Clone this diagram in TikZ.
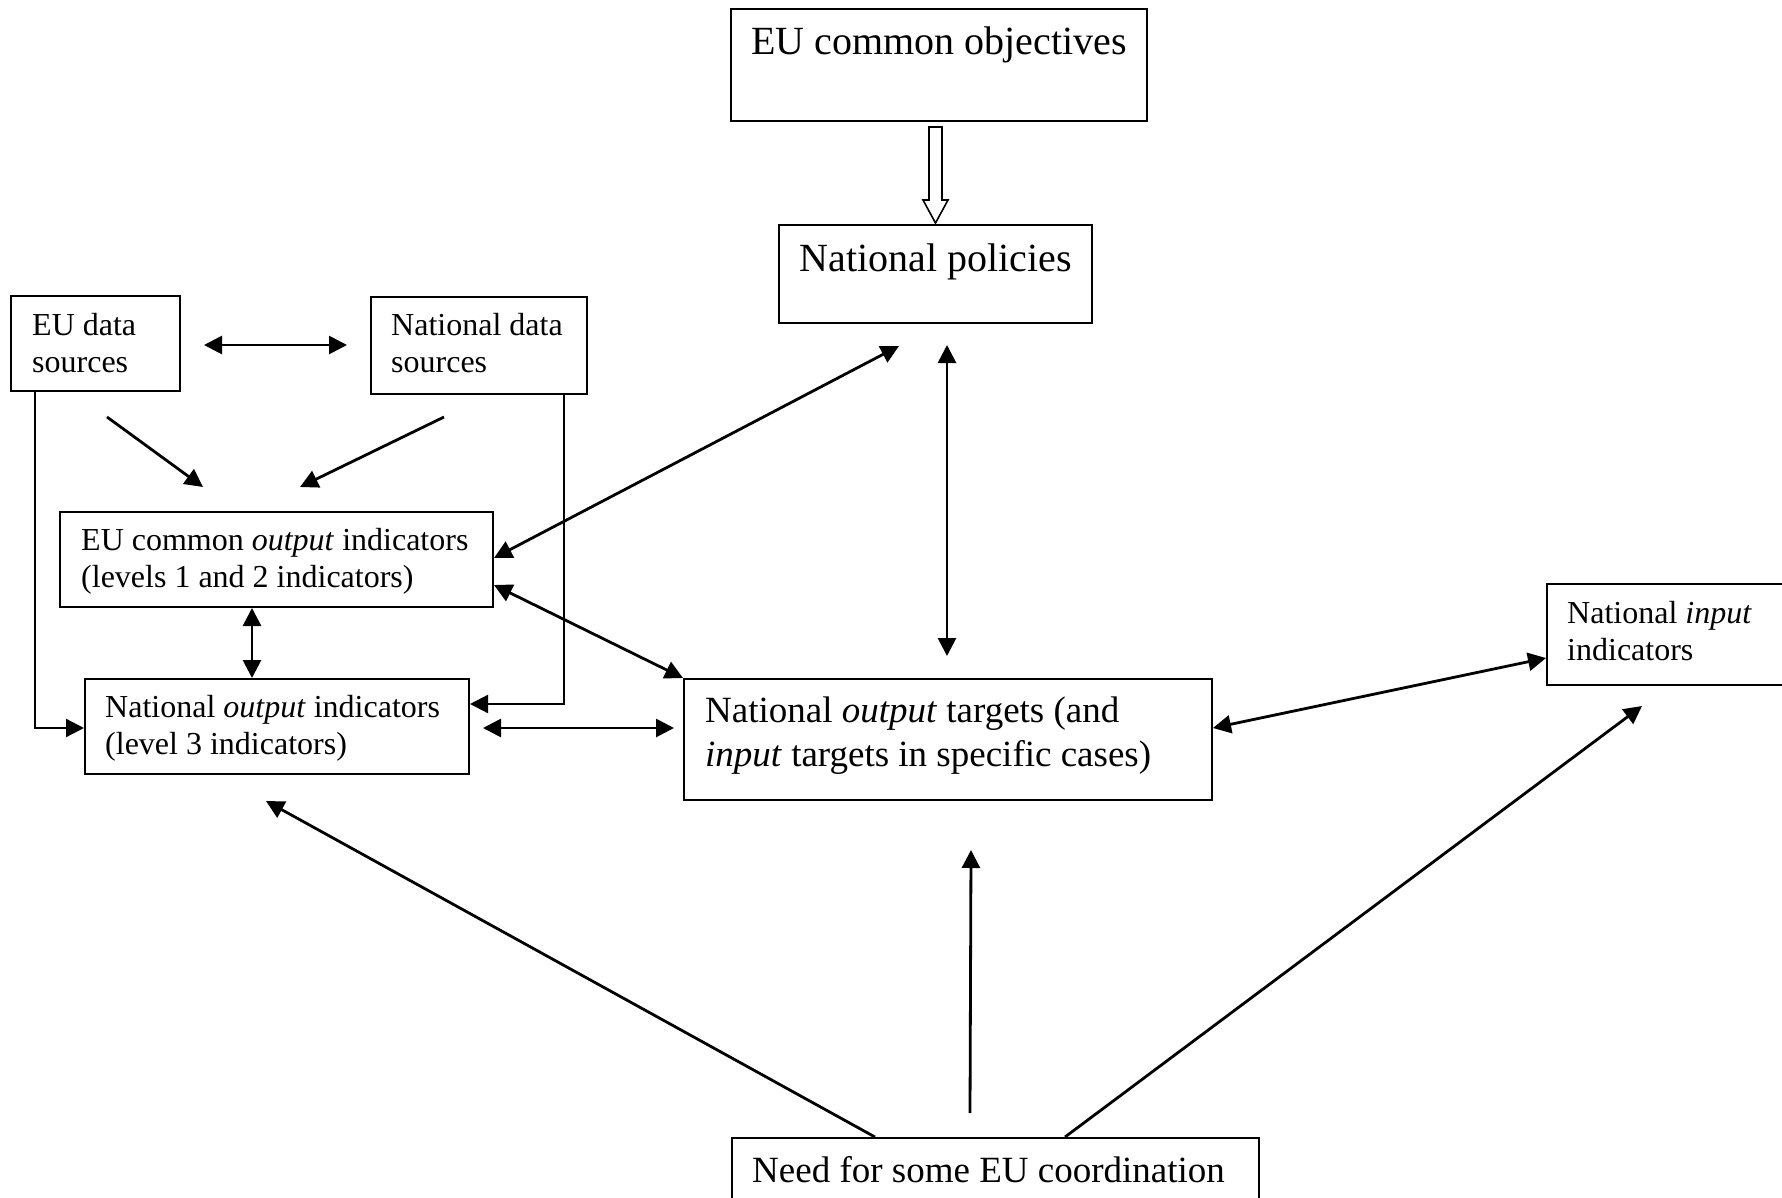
\documentclass[tikz,border=0pt]{standalone}
\usepackage{fontspec}
\setmainfont{Liberation Serif}
\usetikzlibrary{arrows.meta,calc}
\newcommand\szA{\fontsize{32pt}{37pt}\selectfont}
\newcommand\szB{\fontsize{37pt}{44pt}\selectfont}
\newcommand\szC{\fontsize{40pt}{46pt}\selectfont}
\begin{document}
\begin{tikzpicture}[x=1pt,y=-1pt,
  >={Triangle[length=18pt,width=18pt]},
  box/.style={draw,line width=2pt,rectangle,inner sep=0pt,anchor=north west},
  txt/.style={inner sep=0pt,anchor=north west,align=left},
  arr/.style={line width=2.8pt},
  elbow/.style={line width=2.2pt},
  hollow/.style={draw,line width=1.6pt,fill=white,line join=miter}]
\clip (0,0) rectangle (1782,1198);
% boxes
\node[box,minimum width=416pt,minimum height=112pt] (obj) at (730,8) {};
\node[box,minimum width=313pt,minimum height=98pt] (pol) at (778,224) {};
\node[box,minimum width=169pt,minimum height=95pt] (eud) at (10,295) {};
\node[box,minimum width=216pt,minimum height=97pt] (natd) at (370,296) {};
\node[box,minimum width=433pt,minimum height=95pt] (euout) at (59,511) {};
\node[box,minimum width=384pt,minimum height=95pt] (natout) at (84,678) {};
\node[box,minimum width=528pt,minimum height=121pt] (targ) at (683,678) {};
\node[box,minimum width=254pt,minimum height=101pt] (inp) at (1546,583) {};
\node[box,minimum width=527pt,minimum height=90pt] (need) at (731,1137) {};
% texts
\node[inner sep=0pt,anchor=base,font=\szC] (tobj) at ($(obj.north)+(0,47)$) {EU common objectives};
\node[inner sep=0pt,anchor=base,font=\szC] (tpol) at ($(pol.north)+(0,48)$) {National policies};
\node[txt,font=\szA] (teud) at ($(eud.north west)+(22,10)$) {\rule{0pt}{30pt}EU data\\sources};
\node[txt,font=\szA] (tnatd) at ($(natd.north west)+(21,9)$) {\rule{0pt}{30pt}National data\\sources};
\node[txt,font=\szA] (teuout) at ($(euout.north west)+(22,9)$) {\rule{0pt}{30pt}EU common \textit{output} indicators\\(levels 1 and 2 indicators)};
\node[txt,font=\szA] (tnatout) at ($(natout.north west)+(21,9)$) {\rule{0pt}{30pt}National \textit{output} indicators\\(level 3 indicators)};
\node[txt,font=\szA] (tinp) at ($(inp.north west)+(21,10)$) {\rule{0pt}{30pt}National \textit{input}\\indicators};
\node[txt,font=\szB] (ttarg) at ($(targ.north west)+(22,10)$) {\rule{0pt}{34pt}National \textit{output} targets (and\\\textit{input} targets in specific cases)};
\node[txt,font=\szB] (tneed) at ($(need.north west)+(21,11)$) {\rule{0pt}{34pt}Need for some EU coordination};
% hollow arrow
\draw[hollow] ($(pol.north)+(-6.5,-97)$) -- ($(pol.north)+(6.5,-97)$) -- ($(pol.north)+(6.5,-24)$) -- ($(pol.north)+(12.5,-24)$) -- ($(pol.north)+(0,-1)$) -- ($(pol.north)+(-12.5,-24)$) -- ($(pol.north)+(-6.5,-24)$) -- cycle;
% connectors
\draw[arr,<->] ($(eud.east)+(23,1.5)$) -- ($(natd.west)+(-23,-0.5)$);
\draw[arr,->] ($(eud.south)+(11.5,25)$) -- ($(euout.north)+(-73.5,-24)$);
\draw[arr,->] ($(natd.south)+(-35,22)$) -- ($(euout.north)+(23.5,-24)$);
\draw[elbow,->] ($(eud.south west)+(25,0)$) |- ($(natout.west)+(0,1.5)$);
\draw[elbow,->] ($(natd.south east)+(-24,0)$) |- ($(natout.east)+(0,-22.5)$);
\draw[arr,<->] ($(euout.south)+(-24.5,0)$) -- ($(natout.north)+(-25,0)$);
\draw[arr,<->] ($(natout.east)+(13,1.5)$) -- ($(targ.west)+(-9,-11.5)$);
\draw[arr,<->] ($(euout.north east)+(0,47)$) -- ($(pol.south)+(-36.5,22)$);
\draw[arr,<->] ($(euout.south east)+(0,-23)$) -- (targ.north west);
\draw[arr,<->] ($(pol.south)+(11.5,21)$) -- ($(targ.north)+(-1,-22)$);
\draw[arr,<->] ($(targ.east)+(0,-11.5)$) -- ($(inp.west)+(0,23.5)$);
\draw[arr,->] ($(need.north west)+(144,0)$) -- ($(natout.south)+(-11,26)$);
\draw[arr,->] ($(need.north west)+(239,-24)$) -- ($(targ.south)+(23,49)$);
\draw[arr,->] ($(need.north west)+(334,0)$) -- ($(inp.south west)+(96,20)$);
\end{tikzpicture}
\end{document}
